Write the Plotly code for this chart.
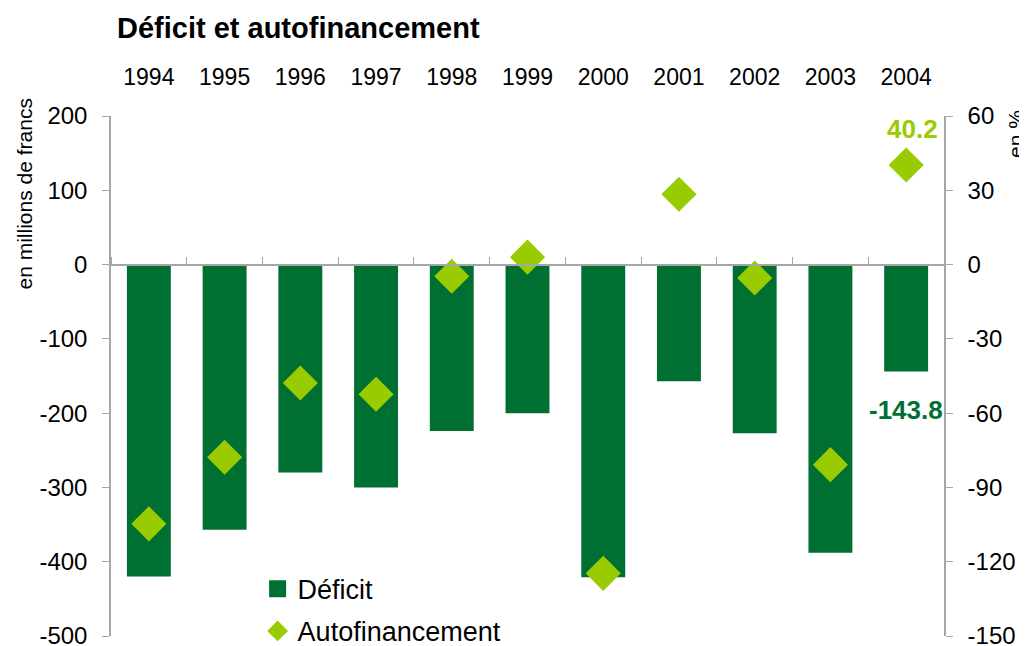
import plotly.graph_objects as go

years = ["1994", "1995", "1996", "1997", "1998", "1999", "2000", "2001", "2002", "2003", "2004"]
deficit = [-420, -357, -280, -300, -224, -200, -421, -157, -227, -388, -143.8]
autofin = [-104.7, -77.8, -47.8, -52.4, -4.7, 3.0, -124.7, 28.4, -5.4, -80.8, 40.2]

left_ticks = [200, 100, 0, -100, -200, -300, -400, -500]
right_ticks = [60, 30, 0, -30, -60, -90, -120, -150]

DARK = "#006F32"
LIGHT = "#99CC00"
AXC = "#A6A6A6"
FONT = "Liberation Sans, Arial, sans-serif"

W, H = 1019, 638  # page adds an 8px body margin

fig = go.Figure()
fig.add_trace(go.Bar(
    x=years, y=deficit, name="Déficit", marker=dict(color=DARK, line=dict(width=0)),
    xaxis="x", yaxis="y", showlegend=False,
))
# legend entry for the bars (larger swatch)
fig.add_trace(go.Bar(
    x=[None], y=[None], name="Déficit", marker=dict(color=DARK, line=dict(width=8, color=DARK)),
    xaxis="x", yaxis="y", legendgroup="a", showlegend=True,
))
fig.add_trace(go.Scatter(
    x=years, y=autofin, name="Autofinancement", mode="markers",
    marker=dict(symbol="diamond", size=27, color=LIGHT, line=dict(width=0)),
    xaxis="x2", yaxis="y2", legendgroup="b",
))

last = len(years) - 1
fig.add_annotation(x=last, y=deficit[last], xref="x", yref="y", text="<b>%.1f</b>" % deficit[last],
                   showarrow=False, yanchor="top", yshift=-22, xshift=0,
                   font=dict(family=FONT, size=26, color=DARK))
fig.add_annotation(x=last, y=autofin[last], xref="x2", yref="y2", text="<b>%.1f</b>" % autofin[last],
                   showarrow=False, yanchor="bottom", yshift=19, xshift=6,
                   font=dict(family=FONT, size=26, color=LIGHT))

fig.add_annotation(text="en millions de francs", xref="paper", yref="paper", x=-0.105, y=0.85,
                   textangle=-90, showarrow=False, xanchor="center", yanchor="middle",
                   font=dict(family=FONT, size=21, color="#000000"))
fig.add_annotation(text="en %", xref="paper", yref="paper", x=1.085, y=0.965,
                   textangle=-90, showarrow=False, xanchor="center", yanchor="middle",
                   font=dict(family=FONT, size=21, color="#000000"))

common_y = dict(showgrid=False, zeroline=False, automargin=False)

fig.update_layout(
    width=W, height=H,
    margin=dict(l=103, r=83, t=108, b=10, autoexpand=False),
    paper_bgcolor="white", plot_bgcolor="white",
    font=dict(family=FONT, size=23, color="#000000"),
    title=dict(text="<b>Déficit et autofinancement</b>", x=109/W, xref="container", xanchor="left",
               y=1 - 20/H, yref="container", yanchor="middle",
               font=dict(family=FONT, size=29, color="#000000")),
    bargap=0.42, barmode="overlay",
    showlegend=True,
    legend=dict(x=0.176, y=0.137, xanchor="left", yanchor="top", bgcolor="rgba(0,0,0,0)",
                font=dict(family=FONT, size=27), itemsizing="trace", tracegroupgap=4),
    xaxis=dict(type="category", categoryorder="array", categoryarray=years, range=[-0.5, 10.5],
               anchor="free", position=5/7, side="top", showline=True, linecolor=AXC, linewidth=1.5,
               ticks="outside", tickson="boundaries", ticklen=7, tickcolor=AXC,
               showticklabels=False, showgrid=False, zeroline=False, automargin=False),
    xaxis2=dict(type="category", categoryorder="array", categoryarray=years, range=[-0.5, 10.5],
                overlaying="x", anchor="y2", side="top", showline=False, ticks="",
                showticklabels=True, ticklabelstandoff=25, showgrid=False, zeroline=False,
                tickfont=dict(family=FONT, size=23), automargin=False),
    yaxis=dict(range=[-500, 200], tickvals=left_ticks, ticktext=[str(v) for v in left_ticks],
               showline=True, linecolor=AXC, linewidth=1.5,
               ticks="outside", ticklen=7, tickcolor=AXC, ticklabeloverflow="allow",
               ticklabelstandoff=10, tickfont=dict(family=FONT, size=24), **common_y),
    yaxis2=dict(range=[-150, 60], tickvals=right_ticks, ticktext=[str(v) for v in right_ticks],
                overlaying="y", side="right", anchor="x2",
                showline=True, linecolor=AXC, linewidth=1.5,
                ticks="outside", ticklen=7, tickcolor=AXC, ticklabeloverflow="allow",
                ticklabelstandoff=10, tickfont=dict(family=FONT, size=24), **common_y),
    yaxis3=dict(range=[-500, 200], tickvals=left_ticks, overlaying="y", side="left", anchor="x",
                showline=False, ticks="inside", ticklen=7, tickcolor=AXC, tickwidth=1,
                showticklabels=False, **common_y),
    yaxis4=dict(range=[-150, 60], tickvals=right_ticks, overlaying="y", side="right", anchor="x",
                showline=False, ticks="inside", ticklen=7, tickcolor=AXC, tickwidth=1,
                showticklabels=False, **common_y),
)

fig.write_html("out.html")
